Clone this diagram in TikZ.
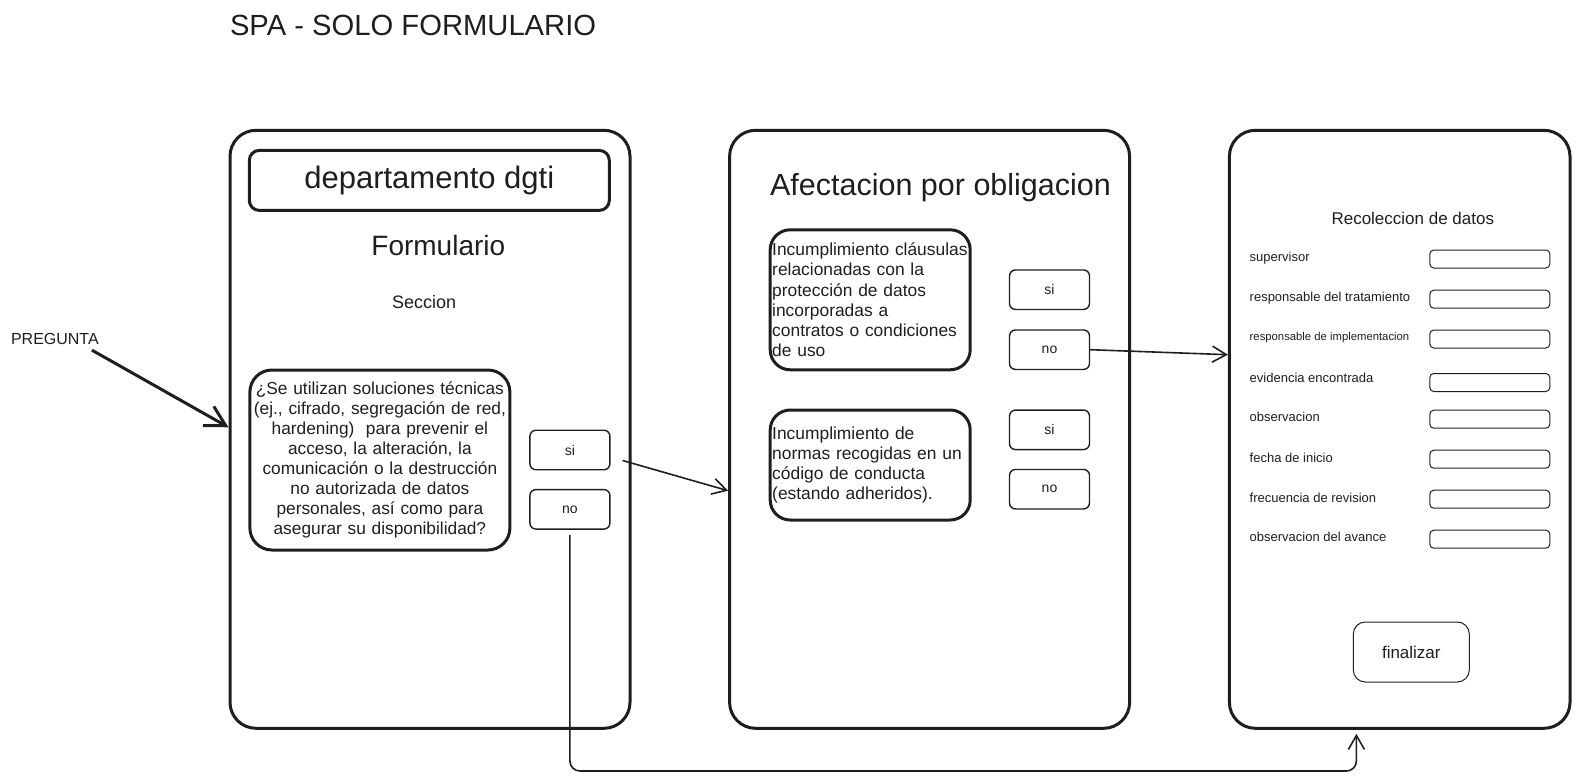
\documentclass[tikz,border=0pt]{standalone}
\usepackage{fontspec}
\setmainfont{Liberation Sans}
\usetikzlibrary{positioning, arrows.meta}
\definecolor{ink}{HTML}{1E1E1E}

\begin{document}
\begin{tikzpicture}[x=1pt, y=-1pt,
        every node/.append style={text=ink},
        panel/.style={draw=ink, line width=3pt, rounded corners=26pt, minimum height=598pt},
        headbox/.style={draw=ink, line width=3pt, rounded corners=10pt, minimum width=360pt, minimum height=60pt, font=\fontsize{31}{36}\selectfont},
        qbox/.style={draw=ink, line width=3pt, rounded corners=22pt, text width=254pt, minimum height=180pt, align=center, inner xsep=3pt, font=\fontsize{17.3}{20.1}\selectfont},
        oblbox/.style={draw=ink, line width=3pt, rounded corners=20pt, text width=196pt, inner xsep=2pt, align=left, font=\fontsize{17.4}{20.1}\selectfont},
        optbtn/.style={draw=ink, line width=1.4pt, rounded corners=6pt, minimum width=80pt, minimum height=39.5pt, font=\fontsize{14}{16}\selectfont},
        field/.style={draw=ink, line width=1pt, rounded corners=4pt, minimum width=120pt, minimum height=18pt, inner sep=0pt},
        fieldlbl/.style={anchor=west, inner sep=0pt, font=\fontsize{13}{15}\selectfont},
        endbtn/.style={draw=ink, line width=1pt, rounded corners=12pt, minimum width=116pt, minimum height=60pt, font=\fontsize{17}{20}\selectfont},
        arrow/.style={draw=ink, line width=1.6pt, -{Straight Barb[length=14pt, width=16pt]}}
    ]
        \useasboundingbox (0,0) rectangle (1580,782);

        % Title
        \node[anchor=west, inner sep=0pt, font=\fontsize{29.2}{33}\selectfont] (title) at (229.8,25.2) {SPA - SOLO FORMULARIO};

        % Panels
        \node[panel, minimum width=400pt] (form) at (430,429.3) {};
        \node[panel, minimum width=400pt] (oblig) at (929.6,429.3) {};
        \node[panel, minimum width=340.6pt] (datos) at (1399.7,429.3) {};

        % Left panel: form
        \node[headbox] (dept) at (429.3,180.4) {departamento dgti};
        \node[inner sep=0pt, font=\fontsize{28}{31}\selectfont] (formtitle) at (438.3,245.9) {Formulario};
        \node[inner sep=0pt, font=\fontsize{18}{21}\selectfont] (seccion) at (424.2,302.3) {Seccion};
        \node[qbox] (question) at (379.9,460) {¿Se utilizan soluciones técnicas\\(ej., cifrado, segregación de red,\\hardening)\ \ para prevenir el\\acceso, la alteración, la\\comunicación o la destrucción\\no autorizada de datos\\personales, así como para\\asegurar su disponibilidad?};
        \node[optbtn] (siL) at (569.9,450) {si};
        \node[optbtn] (noL) at (569.9,509.3) {no};

        \node[inner sep=0pt, font=\fontsize{16}{18}\selectfont] (pregunta) at (54.9,338.6) {PREGUNTA};

        % Middle panel: obligations
        \node[anchor=west, inner sep=0pt, font=\fontsize{30.5}{34}\selectfont] (obltitle) at (769.9,187.4) {Afectacion por obligacion};
        \node[oblbox, minimum height=140pt] (clausulas) at (870.2,299.8) {Incumplimiento cláusulas\\relacionadas con la\\protección de datos\\incorporadas a\\contratos o condiciones\\de uso};
        \node[optbtn] (siA) at (1049.5,289.7) {si};
        \node[optbtn] (noA) at (1049.5,349.7) {no};
        \node[oblbox, minimum height=110pt] (normas) at (870.2,465) {Incumplimiento de\\normas recogidas en un\\código de conducta\\(estando adheridos).};
        \node[optbtn] (siB) at (1049.5,429.8) {si};
        \node[optbtn] (noB) at (1049.5,489.2) {no};

        % Right panel: data collection
        \node[inner sep=0pt, font=\fontsize{17}{20}\selectfont] (recoleccion) at (1412.8,218.7) {Recoleccion de datos};
        \foreach \lbl/\ly/\fy [count=\i] in {supervisor/258/259,
                responsable del tratamiento/298.3/299.2,
                {\fontsize{11.3}{13}\selectfont responsable de implementacion}/337.6/339,
                evidencia encontrada/377.9/382.5,
                observacion/417.2/419.2,
                fecha de inicio/457.5/459.2,
                frecuencia de revision/497.8/499.2,
                observacion del avance/537.1/539.2} {
            \node[fieldlbl] (lbl\i) at (1249.5,\ly) {\lbl};
            \node[field] (fld\i) at (1489.8,\fy) {};
        }
        \node[endbtn] (finalizar) at (1411.3,652) {finalizar};

        % Connectors
        \coordinate (loopbase) at (0,766);
        \draw[arrow, line width=3pt, -{Straight Barb[length=20pt, width=22pt]}] ([xshift=-7pt, yshift=-5.7pt]pregunta.south east) -- ([yshift=2pt]form.west);
        \draw[arrow] ([xshift=12pt, yshift=-10.5pt]siL.east) -- ([yshift=-61.4pt]oblig.west);
        \draw[arrow] (noA.east) -- ([yshift=-5pt]datos.west |- noA.east);
        \draw[arrow, rounded corners=10pt] ([yshift=-5pt]noL.south) -- ([yshift=-5pt]noL.south |- loopbase) -| ([xshift=-43.3pt, yshift=-4pt]datos.south);

    \end{tikzpicture}
\end{document}
